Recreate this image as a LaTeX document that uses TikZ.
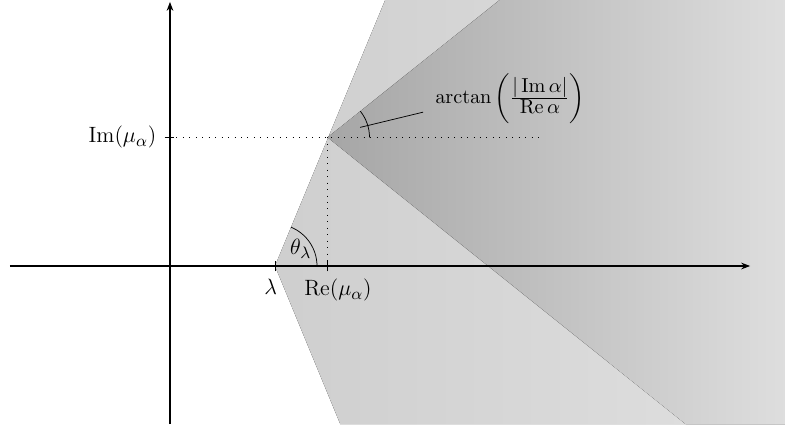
\documentclass[tikz,border=0pt]{standalone}
\usepackage{amsmath,amssymb,amsfonts}
\usepackage{xcolor}
\usepackage{tikz}
\usetikzlibrary{arrows.meta, positioning}
\DeclareMathSizes{11.3}{11.3}{10.6}{7.5}

\begin{document}
\begin{tikzpicture}[
  font=\fontsize{12.5}{15}\selectfont,
  >={Stealth[length=1.7mm]},
  axis/.style={->, semithick},
  guide/.style={dash pattern=on 0.5pt off 3pt},
  tick/.style={line width=0.5pt},
  outerzone/.style={left color=black!19, right color=black!12},
  innerzone/.style={left color=black!35, right color=black!13},
  lbl/.style={inner sep=4.16pt},
]
\useasboundingbox (-3.238,-3.143) rectangle (11.905,5.067);
% key points
\coordinate (O)   at (0,0);
\coordinate (lam) at (2,0);
\coordinate (re)  at (3,0);
\coordinate (im)  at (0,2.45);
\coordinate (mu)  at (3,2.45);
% Stage 1: shaded zones
\fill[outerzone] (lam) -- (4.099,5.067) -- (11.714,5.067)
      -- (11.714,-3.01) -- (3.243,-3.01) -- cycle;
\fill[innerzone] (mu) -- (6.28,5.067) -- (11.714,5.067)
      -- (11.714,-3.01) -- (9.82,-3.01) -- cycle;
% Stage 2: axes
\draw[axis] (-3.05,0) -- (11.05,0);
\draw[axis] (0,-3.01) -- (0,5.03);
% Stage 3: guides and ticks
\draw[guide] (im) -- (7.05,2.45);
\draw[guide] (mu) -- (re);
\draw[tick] ([yshift=-0.1cm]lam) -- ([yshift=0.1cm]lam);
\draw[tick] ([yshift=-0.1cm]re) -- ([yshift=0.1cm]re);
\draw[tick] ([xshift=-0.1cm]im) -- ([xshift=0.08cm]im);
% labels on axes
\node[lbl, anchor=north] (lamlbl) at (1.92,-0.10) {$\lambda$};
\node[lbl, anchor=north] (relbl)  at (3.2,-0.10)  {$\operatorname{Re}(\mu_\alpha)$};
\node[lbl, anchor=east]  (imlbl)  at (-0.107,2.45) {$\operatorname{Im}(\mu_\alpha)$};
% angles
\draw (2.8,0) arc[start angle=0, end angle=67.5, radius=0.8];
\node (thlbl) at (2.49,0.32) {$\theta_\lambda$};
\draw (3.8,2.45) arc[start angle=0, end angle=38.6, radius=0.8];
\coordinate (tin)  at (3.62,2.64);
\coordinate (tout) at (4.82,2.93);
\draw (tin) -- (tout);
\node[lbl, anchor=west, font=\fontsize{11.3}{13.5}\selectfont] (atanlbl) at (4.90,3.194)
      {$\arctan\left(\frac{|\operatorname{Im}\alpha|}{\operatorname{Re}\alpha}\right)$};
\end{tikzpicture}
\end{document}
